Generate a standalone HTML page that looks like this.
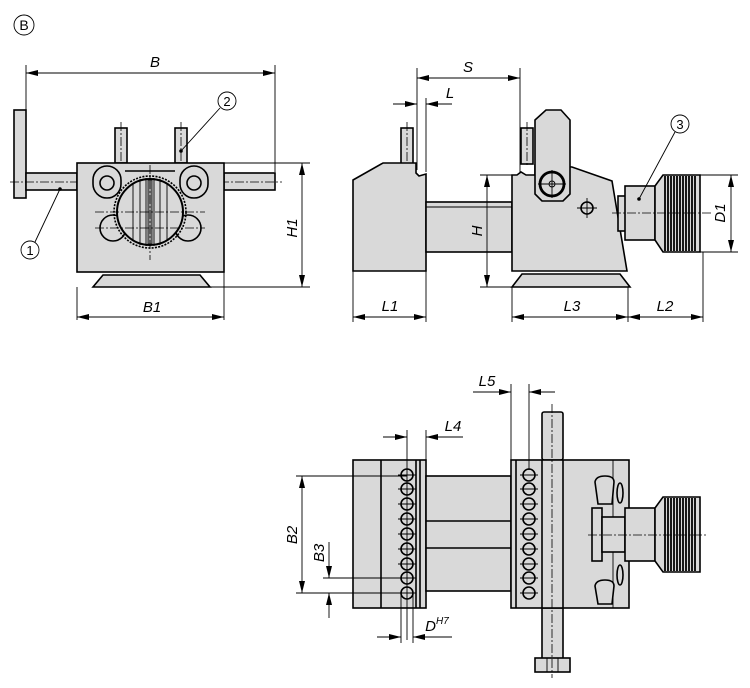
<!DOCTYPE html>
<html><head><meta charset="utf-8"><style>
html,body{margin:0;padding:0;background:#fff}
svg{display:block}
text{font-family:"Liberation Sans",sans-serif;font-style:italic;font-size:15px;fill:#000}
.f{fill:#d9d9d9;stroke:#000;stroke-width:1.6}
.n{fill:none;stroke:#000;stroke-width:1.6}
.t{fill:none;stroke:#000;stroke-width:0.9}
.c{fill:none;stroke:#000;stroke-width:0.8;stroke-dasharray:9 2 2 2}
.w{fill:#fff;stroke:#000;stroke-width:1.4}
.k line{stroke:#000;stroke-width:1.8}
</style></head><body>
<svg width="750" height="688" viewBox="0 0 750 688" xmlns="http://www.w3.org/2000/svg">
<defs>
<marker id="a" viewBox="0 0 12 6" refX="12" refY="3" markerWidth="12" markerHeight="6" orient="auto-start-reverse" markerUnits="userSpaceOnUse"><path d="M0,0 L12,3 L0,6 z" fill="#000"/></marker>
</defs>

<circle cx="24" cy="25" r="10" class="t"/>
<text x="24" y="30" text-anchor="middle" style="font-style:normal;font-size:14px">B</text>

<!-- LEFT VIEW -->
<line x1="26" y1="73" x2="275" y2="73" class="t" marker-start="url(#a)" marker-end="url(#a)"/>
<line x1="26" y1="65" x2="26" y2="110" class="t"/>
<line x1="275" y1="65" x2="275" y2="172" class="t"/>
<text x="155" y="67" text-anchor="middle">B</text>
<rect x="14" y="110" width="12" height="88" class="f"/>
<rect x="26" y="173" width="51" height="17" class="f"/>
<rect x="224" y="173" width="51" height="17" class="f"/>
<line x1="10" y1="182" x2="282" y2="182" class="c"/>
<rect x="115" y="128" width="12" height="35" class="f"/>
<rect x="175" y="128" width="12" height="35" class="f"/>
<line x1="121" y1="122" x2="121" y2="165" class="c"/>
<line x1="181" y1="122" x2="181" y2="165" class="c"/>
<rect x="77" y="163" width="147" height="109" class="f"/>
<path d="M93,287 L210,287 L200,275 L103,275 Z" class="f"/>
<line x1="77" y1="287" x2="77" y2="320" class="t"/>
<line x1="224" y1="272" x2="224" y2="320" class="t"/>
<line x1="210" y1="287" x2="310" y2="287" class="t"/>
<line x1="224" y1="163" x2="310" y2="163" class="t"/>
<line x1="302" y1="163" x2="302" y2="287" class="t" marker-start="url(#a)" marker-end="url(#a)"/>
<text transform="translate(297,228) rotate(-90)" text-anchor="middle">H1</text>
<line x1="77" y1="317" x2="224" y2="317" class="t" marker-start="url(#a)" marker-end="url(#a)"/>
<text x="152" y="312" text-anchor="middle">B1</text>
<path d="M93,180 A14,14 0 0 1 121,180 L121,184 A14,14 0 0 1 107,198 A14,14 0 0 1 93,184 Z" class="f"/>
<path d="M180,180 A14,14 0 0 1 208,180 L208,184 A14,14 0 0 1 194,198 A14,14 0 0 1 180,184 Z" class="f"/>
<circle cx="107" cy="183" r="7" class="n"/>
<circle cx="194" cy="183" r="7" class="n"/>
<circle cx="113" cy="228" r="13" class="n" stroke-width="3"/>
<circle cx="188" cy="228" r="13" class="n" stroke-width="3"/>
<line x1="125" y1="171" x2="175" y2="171" class="n" stroke-width="2.5"/>
<circle cx="150" cy="212" r="36" class="n" stroke-width="6" stroke-dasharray="2 1.3"/>
<circle cx="150" cy="212" r="33" fill="#d9d9d9" stroke="#000" stroke-width="2"/>
<g class="t" stroke-width="1.2"><line x1="133" y1="183" x2="133" y2="241"/><line x1="140" y1="179" x2="140" y2="245"/><line x1="146" y1="178" x2="146" y2="246"/><line x1="154" y1="178" x2="154" y2="246"/><line x1="160" y1="179" x2="160" y2="245"/><line x1="167" y1="183" x2="167" y2="241"/></g>
<rect x="148" y="180" width="4" height="64" fill="#999" stroke="#000" stroke-width="0.8"/>
<line x1="150" y1="165" x2="150" y2="260" class="c"/>
<line x1="95" y1="212" x2="205" y2="212" class="c"/>
<line x1="95" y1="228" x2="205" y2="228" class="c"/>
<circle cx="30" cy="250" r="9" class="t"/><text x="30" y="255" text-anchor="middle" style="font-style:normal;font-size:13px">1</text>
<line x1="35" y1="242" x2="60" y2="189" class="t"/><circle cx="60" cy="189" r="1.8"/>
<circle cx="227" cy="101" r="9" class="t"/><text x="227" y="106" text-anchor="middle" style="font-style:normal;font-size:13px">2</text>
<line x1="220" y1="108" x2="181" y2="151" class="t"/><circle cx="181" cy="151" r="1.8"/>

<!-- MIDDLE VIEW -->
<line x1="417" y1="78" x2="520" y2="78" class="t" marker-start="url(#a)" marker-end="url(#a)"/>
<text x="468" y="72" text-anchor="middle">S</text>
<line x1="417" y1="68" x2="417" y2="170" class="t"/>
<line x1="520" y1="68" x2="520" y2="172" class="t"/>
<line x1="393" y1="104" x2="417" y2="104" class="t" marker-end="url(#a)"/>
<line x1="452" y1="104" x2="426" y2="104" class="t" marker-end="url(#a)"/>
<line x1="426" y1="98" x2="426" y2="172" class="t"/>
<text x="450" y="98" text-anchor="middle">L</text>
<rect x="401" y="128" width="12" height="36" class="f"/>
<line x1="407" y1="122" x2="407" y2="165" class="c"/>
<rect x="521" y="128" width="12" height="36" class="f"/>
<line x1="527" y1="122" x2="527" y2="165" class="c"/>
<path d="M353,180 L383,163 L416,163 L416,173 L419,176 L426,174 L426,271 L353,271 Z" class="f"/>
<rect x="426" y="202" width="86" height="50" class="f"/>
<line x1="426" y1="207" x2="512" y2="207" class="t"/>
<path d="M512,175 L517,175 L521,172 L526,175 L535,175 L535,165 L572,167 L612,181 L627,271 L512,271 Z" class="f"/>
<path d="M512,287 L630,287 L620,274 L522,274 Z" class="f"/>
<path d="M546,110 L561,110 L570,120 L570,194 L563,201 L542,201 L535,194 L535,120 Z" class="f"/>
<circle cx="552" cy="184" r="12" fill="#d9d9d9" stroke="#000" stroke-width="2.8"/>
<circle cx="552" cy="184" r="3" class="t"/>
<line x1="538" y1="184" x2="566" y2="184" class="t"/><line x1="552" y1="170" x2="552" y2="198" class="t"/>
<circle cx="587" cy="208" r="6" class="n" stroke-width="2.4"/>
<line x1="577" y1="208" x2="597" y2="208" class="t"/><line x1="587" y1="198" x2="587" y2="218" class="t"/>
<rect x="618" y="196" width="8" height="35" class="f"/>
<rect x="625" y="186" width="30" height="54" class="f"/>
<path d="M655,186 L663,175 L700,175 L700,252 L663,252 L655,240 Z" class="f" stroke-width="2"/>
<g class="k">
<line x1="665" y1="176" x2="665" y2="251"/><line x1="668" y1="176" x2="668" y2="251"/><line x1="671" y1="176" x2="671" y2="251"/><line x1="674" y1="176" x2="674" y2="251"/><line x1="677" y1="176" x2="677" y2="251"/><line x1="680" y1="176" x2="680" y2="251"/><line x1="683" y1="176" x2="683" y2="251"/><line x1="686" y1="176" x2="686" y2="251"/><line x1="689" y1="176" x2="689" y2="251"/><line x1="692" y1="176" x2="692" y2="251"/><line x1="695" y1="176" x2="695" y2="251"/>
</g>
<line x1="612" y1="213" x2="712" y2="213" class="c"/>
<circle cx="680" cy="124" r="9" class="t"/><text x="680" y="129" text-anchor="middle" style="font-style:normal;font-size:13px">3</text>
<line x1="675" y1="132" x2="639" y2="199" class="t"/><circle cx="639" cy="199" r="1.8"/>
<line x1="480" y1="175" x2="512" y2="175" class="t"/>
<line x1="480" y1="287" x2="512" y2="287" class="t"/>
<line x1="487" y1="175" x2="487" y2="287" class="t" marker-start="url(#a)" marker-end="url(#a)"/>
<text transform="translate(482,231) rotate(-90)" text-anchor="middle">H</text>
<line x1="700" y1="175" x2="738" y2="175" class="t"/>
<line x1="700" y1="252" x2="738" y2="252" class="t"/>
<line x1="731" y1="175" x2="731" y2="252" class="t" marker-start="url(#a)" marker-end="url(#a)"/>
<text transform="translate(725,213) rotate(-90)" text-anchor="middle">D1</text>
<line x1="353" y1="271" x2="353" y2="322" class="t"/>
<line x1="426" y1="271" x2="426" y2="322" class="t"/>
<line x1="512" y1="287" x2="512" y2="322" class="t"/>
<line x1="628" y1="287" x2="628" y2="322" class="t"/>
<line x1="703" y1="252" x2="703" y2="322" class="t"/>
<line x1="353" y1="317" x2="426" y2="317" class="t" marker-start="url(#a)" marker-end="url(#a)"/>
<line x1="512" y1="317" x2="628" y2="317" class="t" marker-start="url(#a)" marker-end="url(#a)"/>
<line x1="628" y1="317" x2="703" y2="317" class="t" marker-start="url(#a)" marker-end="url(#a)"/>
<text x="390" y="311" text-anchor="middle">L1</text>
<text x="572" y="311" text-anchor="middle">L3</text>
<text x="665" y="311" text-anchor="middle">L2</text>

<!-- BOTTOM VIEW -->
<rect x="542" y="412" width="21" height="48" class="f" rx="2"/>
<rect x="542" y="608" width="21" height="52" class="f"/>
<rect x="535" y="658" width="35" height="14" class="f"/>
<line x1="547" y1="658" x2="547" y2="672" class="t"/><line x1="558" y1="658" x2="558" y2="672" class="t"/>
<rect x="353" y="460" width="73" height="148" class="f"/>
<line x1="381" y1="460" x2="381" y2="608" class="n"/>
<line x1="416" y1="460" x2="416" y2="608" class="n"/>
<line x1="420" y1="460" x2="420" y2="608" class="n" stroke-width="2"/>
<rect x="426" y="476" width="85" height="115" class="f"/>
<line x1="426" y1="521" x2="511" y2="521" class="n" stroke-width="2"/>
<line x1="426" y1="548" x2="511" y2="548" class="n" stroke-width="2"/>
<rect x="511" y="460" width="118" height="148" class="f"/>
<line x1="516" y1="460" x2="516" y2="608" class="n" stroke-width="2.5"/>
<line x1="542" y1="460" x2="542" y2="608" class="n"/>
<line x1="563" y1="460" x2="563" y2="608" class="n"/>
<line x1="613" y1="460" x2="613" y2="608" class="t"/>
<line x1="552" y1="404" x2="552" y2="678" class="c"/>
<g class="n" stroke-width="1.5">
<circle cx="407" cy="475" r="6"/><circle cx="407" cy="489" r="6"/><circle cx="407" cy="504" r="6"/><circle cx="407" cy="519" r="6"/><circle cx="407" cy="534" r="6"/><circle cx="407" cy="549" r="6"/><circle cx="407" cy="564" r="6"/><circle cx="407" cy="578" r="6"/><circle cx="407" cy="593" r="6"/>
<circle cx="529" cy="475" r="6"/><circle cx="529" cy="489" r="6"/><circle cx="529" cy="504" r="6"/><circle cx="529" cy="519" r="6"/><circle cx="529" cy="534" r="6"/><circle cx="529" cy="549" r="6"/><circle cx="529" cy="564" r="6"/><circle cx="529" cy="578" r="6"/><circle cx="529" cy="593" r="6"/>
</g>
<g class="t">
<line x1="398" y1="475" x2="416" y2="475"/><line x1="398" y1="489" x2="416" y2="489"/><line x1="398" y1="504" x2="416" y2="504"/><line x1="398" y1="519" x2="416" y2="519"/><line x1="398" y1="534" x2="416" y2="534"/><line x1="398" y1="549" x2="416" y2="549"/><line x1="398" y1="564" x2="416" y2="564"/><line x1="398" y1="578" x2="416" y2="578"/><line x1="398" y1="593" x2="416" y2="593"/>
<line x1="520" y1="475" x2="538" y2="475"/><line x1="520" y1="489" x2="538" y2="489"/><line x1="520" y1="504" x2="538" y2="504"/><line x1="520" y1="519" x2="538" y2="519"/><line x1="520" y1="534" x2="538" y2="534"/><line x1="520" y1="549" x2="538" y2="549"/><line x1="520" y1="564" x2="538" y2="564"/><line x1="520" y1="578" x2="538" y2="578"/><line x1="520" y1="593" x2="538" y2="593"/>
<line x1="407" y1="430" x2="407" y2="640"/><line x1="529" y1="384" x2="529" y2="470"/>
</g>
<path d="M595,482 Q596,476 605,476 Q614,476 614,482 L612,504 L598,504 Z" class="f"/>
<ellipse cx="620" cy="493" rx="3" ry="10" class="f"/>
<path d="M595,586 Q596,580 605,580 Q614,580 614,586 L612,604 L598,604 Z" class="f"/>
<ellipse cx="620" cy="575" rx="3" ry="10" class="f"/>
<rect x="592" y="508" width="10" height="53" class="f"/>
<rect x="602" y="517" width="23" height="35" class="f"/>
<rect x="625" y="508" width="30" height="53" class="f"/>
<path d="M655,508 L663,497 L700,497 L700,572 L663,572 L655,561 Z" class="f" stroke-width="2"/>
<g class="k">
<line x1="665" y1="498" x2="665" y2="571"/><line x1="668" y1="498" x2="668" y2="571"/><line x1="671" y1="498" x2="671" y2="571"/><line x1="674" y1="498" x2="674" y2="571"/><line x1="677" y1="498" x2="677" y2="571"/><line x1="680" y1="498" x2="680" y2="571"/><line x1="683" y1="498" x2="683" y2="571"/><line x1="686" y1="498" x2="686" y2="571"/><line x1="689" y1="498" x2="689" y2="571"/><line x1="692" y1="498" x2="692" y2="571"/><line x1="695" y1="498" x2="695" y2="571"/>
</g>
<line x1="588" y1="535" x2="708" y2="535" class="c"/>
<line x1="511" y1="384" x2="511" y2="460" class="t"/>
<line x1="473" y1="392" x2="511" y2="392" class="t" marker-end="url(#a)"/>
<line x1="555" y1="392" x2="529" y2="392" class="t" marker-end="url(#a)"/>
<text x="487" y="386" text-anchor="middle">L5</text>
<line x1="426" y1="430" x2="426" y2="460" class="t"/>
<line x1="383" y1="437" x2="407" y2="437" class="t" marker-end="url(#a)"/>
<line x1="463" y1="437" x2="426" y2="437" class="t" marker-end="url(#a)"/>
<text x="453" y="431" text-anchor="middle">L4</text>
<line x1="296" y1="476" x2="407" y2="476" class="t"/>
<line x1="296" y1="593" x2="407" y2="593" class="t"/>
<line x1="323" y1="578" x2="407" y2="578" class="t"/>
<line x1="302" y1="476" x2="302" y2="593" class="t" marker-start="url(#a)" marker-end="url(#a)"/>
<text transform="translate(297,535) rotate(-90)" text-anchor="middle">B2</text>
<line x1="329" y1="542" x2="329" y2="578" class="t" marker-end="url(#a)"/>
<line x1="329" y1="618" x2="329" y2="593" class="t" marker-end="url(#a)"/>
<text transform="translate(324,553) rotate(-90)" text-anchor="middle">B3</text>
<line x1="401" y1="593" x2="401" y2="643" class="t"/>
<line x1="413" y1="593" x2="413" y2="643" class="t"/>
<line x1="377" y1="637" x2="401" y2="637" class="t" marker-end="url(#a)"/>
<line x1="452" y1="637" x2="413" y2="637" class="t" marker-end="url(#a)"/>
<text x="437" y="631" text-anchor="middle">D<tspan dy="-7" style="font-size:10px">H7</tspan></text>
</svg>
</body></html>
